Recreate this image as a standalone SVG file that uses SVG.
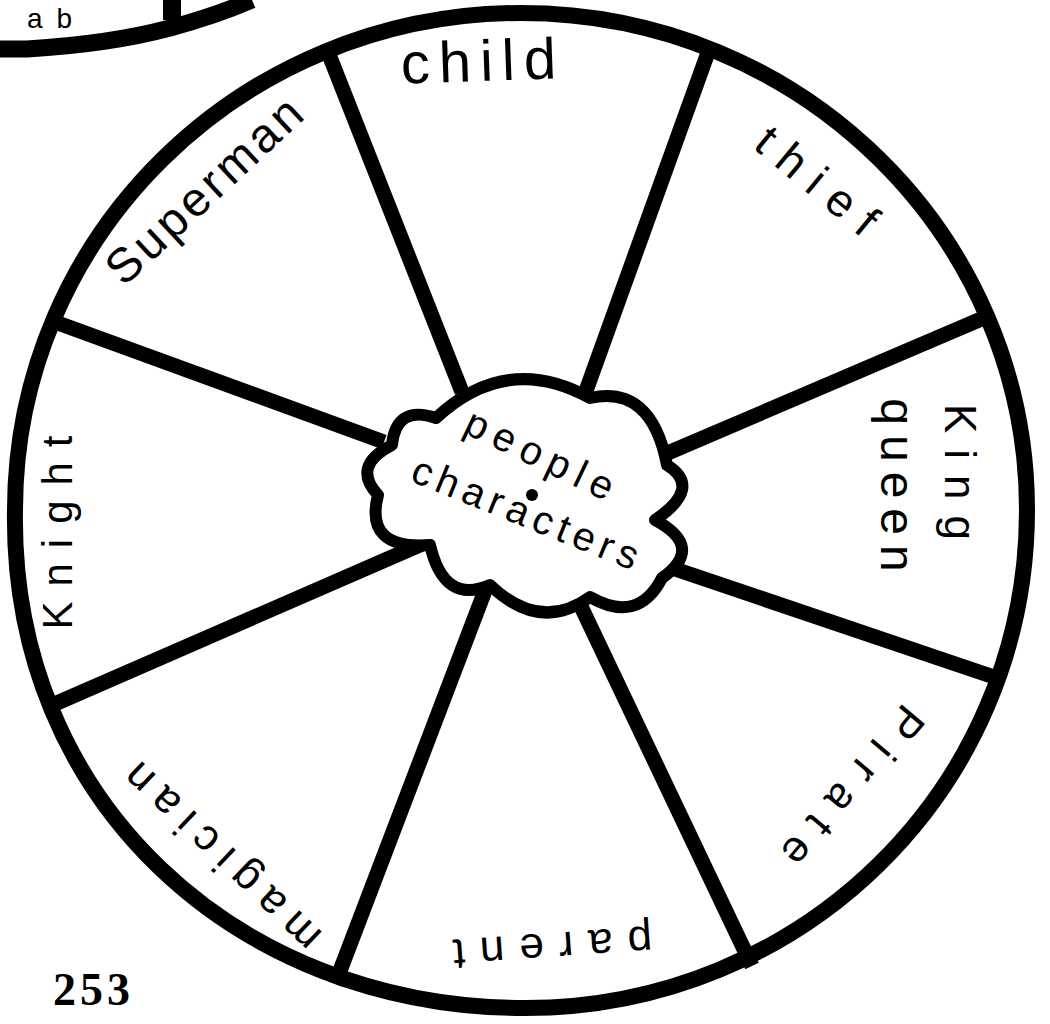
<svg xmlns="http://www.w3.org/2000/svg" width="1050" height="1024" viewBox="0 0 1050 1024">
<style>
.ink{fill:none;stroke:#000;stroke-linecap:butt;stroke-linejoin:round}
.rim{stroke-width:16}
.spoke{stroke-width:15}
.hand{font-family:"Liberation Sans","DejaVu Sans",sans-serif;fill:#000;text-anchor:middle}
</style>
<rect width="1050" height="1024" fill="#fff"/>
<g id="corner-fragment">
<path class="ink" d="M0,49 L27,49 Q110,44 170,28 Q215,16 252,0" stroke-width="17"/>
<path class="ink" d="M172,20 L172,0" stroke-width="18"/>
<text class="hand" x="27" y="28" font-size="28" letter-spacing="14" style="text-anchor:start">ab</text>
</g>
<g id="wheel-rim">
<path class="ink rim" d="M15,510 C15,235.5 241.5,13 521,13 C800.5,13 1027,235.5 1027,510 C1027,790 800.5,1008 525,1008 C236,1008 10,800 15,510 Z"/>
</g>
<g id="connectors">
<path class="ink spoke" d="M326,47 L462,392"/>
<path class="ink spoke" d="M710,47 L582,402"/>
<path class="ink spoke" d="M986,317 L656,458"/>
<path class="ink spoke" d="M666,566 L997,678"/>
<path class="ink spoke" d="M576,596 L752,966"/>
<path class="ink spoke" d="M486,588 L335,984"/>
<path class="ink spoke" d="M422,544 L50,706"/>
<path class="ink spoke" d="M55,322 L384,442"/>
</g>
<g id="center-cloud">
<path d="M436,418 Q507,352 590,398 Q651.5,384.5 667,465 Q703,487.5 655,520 Q705.5,547 662,578 Q638,624.5 590,597 Q540,633 490,585 Q444,605 430,545 Q364,550 378,495 Q351,466 392,445 Q396,404.5 436,418 Z" fill="#fff" stroke="#000" stroke-width="12" stroke-linejoin="round"/>
<text class="hand" transform="translate(542,459) rotate(25.7)" y="10.4" font-size="40" letter-spacing="8">people</text>
<text class="hand" transform="translate(527,517) rotate(22)" y="10.4" font-size="40" letter-spacing="6">characters</text>
<circle cx="532" cy="495" r="6" fill="#000"/>
</g>
<g id="sector-child"><text class="hand" transform="translate(483,66) rotate(-2)" y="15" font-size="58" letter-spacing="9">child</text></g>
<g id="sector-thief"><text class="hand" transform="translate(820,188) rotate(39.5)" y="12" font-size="46" letter-spacing="14">thief</text></g>
<g id="sector-king-queen">
<text class="hand" transform="translate(956,480) rotate(90)" y="11.5" font-size="44" letter-spacing="16">King</text>
<text class="hand" transform="translate(893,490) rotate(90)" y="12.5" font-size="48" letter-spacing="10">queen</text>
</g>
<g id="sector-pirate"><text class="hand" transform="translate(845,790) rotate(130)" y="11.5" font-size="44" letter-spacing="16">Pirate</text></g>
<g id="sector-parent"><text class="hand" transform="translate(545,945) rotate(176)" y="11.5" font-size="44" letter-spacing="15">parent</text></g>
<g id="sector-magician"><text class="hand" transform="translate(220,851) rotate(-136.5)" y="11.5" font-size="44" letter-spacing="11">magician</text></g>
<g id="sector-knight"><text class="hand" transform="translate(61,525) rotate(-90)" y="11" font-size="42" letter-spacing="15">Knight</text></g>
<g id="sector-superman"><text class="hand" transform="translate(208,192) rotate(-43)" y="12.5" font-size="48" letter-spacing="4">Superman</text></g>
<g id="page-number"><text x="53" y="1005" font-family="'Liberation Serif',serif" font-weight="bold" font-size="46" letter-spacing="4" fill="#000">253</text></g>
</svg>
